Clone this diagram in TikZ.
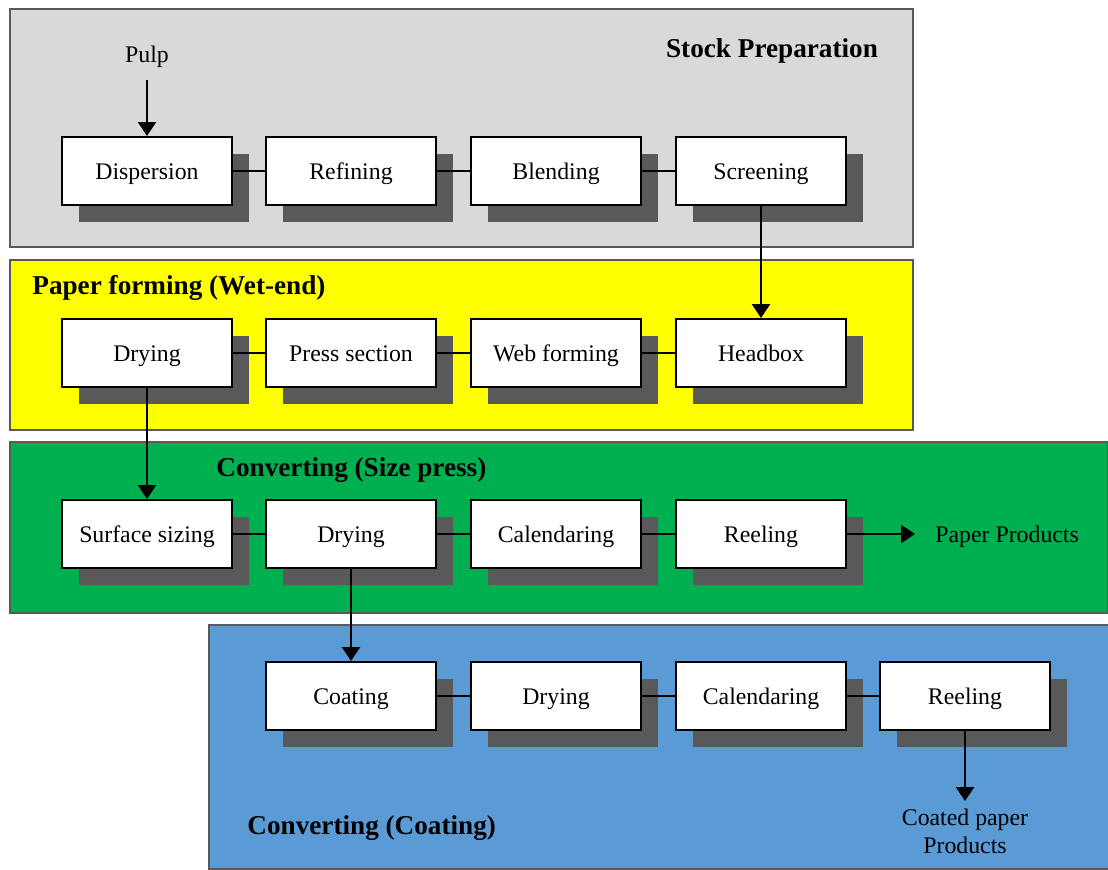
\documentclass[tikz,border=0pt]{standalone}
\usepackage{fontspec}
\setmainfont{Liberation Serif}
\usepackage{xcolor}
\usepackage{tikz}
\usetikzlibrary{arrows.meta, positioning, shadows}

\definecolor{panelgray}{HTML}{D9D9D9}
\definecolor{panelyellow}{HTML}{FFFF00}
\definecolor{panelgreen}{HTML}{00B050}
\definecolor{panelblue}{HTML}{5B9BD5}
\definecolor{shadowgray}{HTML}{595959}

\begin{document}
\begin{tikzpicture}[
		x=0.5pt, y=-0.5pt,
		% Define styles for the panels and process boxes
		panel_box/.style={
			rectangle,
			draw=shadowgray,
			line width=0.8pt,
			inner sep=0pt
		},
		panel_title/.style={
			font=\fontsize{13.6}{16}\selectfont\bfseries,
			inner sep=0pt
		},
		proc_box/.style={
			rectangle,
			draw,
			line width=1pt,
			fill=white,
			minimum width=85pt,
			minimum height=34pt,
			text height=9.4pt,
			text depth=1.4pt,
			font=\fontsize{11.9}{14}\selectfont,
			drop shadow={shadow xshift=8.5pt, shadow yshift=-8.5pt, fill=shadowgray, opacity=1}
		},
		out_label/.style={
			font=\fontsize{11.9}{14}\selectfont,
			inner sep=0pt
		},
		link_style/.style={
			line width=1pt
		},
		arrow_style/.style={
			-{Triangle[width=9pt,length=7pt]},
			line width=1.25pt
		},
		]
		
		\useasboundingbox (0,0) rectangle (1108,869);
		
		% ----- Panels -----
		\node[panel_box, fill=panelgray, minimum width=451.5pt, minimum height=119pt] (stock_panel) at (461.5, 128) {};
		\node[panel_box, fill=panelyellow, minimum width=451.5pt, minimum height=85pt] (wet_panel) at (461.5, 345) {};
		\node[panel_box, fill=panelgreen, minimum width=549pt, minimum height=85.5pt] (size_panel) at (559, 527.5) {};
		\node[panel_box, fill=panelblue, minimum width=450pt, minimum height=122pt] (coat_panel) at (659, 747) {};
		
		% Panel titles
		\node[panel_title] (stock_title) at (772, 51) {Stock Preparation};
		\node[panel_title, anchor=west] (wet_title) at (32, 288) {Paper forming (Wet-end)};
		\node[panel_title, anchor=west] (size_title) at (216, 470) {Converting (Size press)};
		\node[panel_title, anchor=west] (coat_title) at (247, 828) {Converting (Coating)};
		
		% ----- Nodes -----
		% Stock preparation
		\node[proc_box] (dispersion) at (147, 171) {Dispersion};
		\node[proc_box] (refining) at (351, 171) {Refining};
		\node[proc_box] (blending) at (556, 171) {Blending};
		\node[proc_box] (screening) at (761, 171) {Screening};
		
		% Paper forming
		\node[proc_box] (drying_wet) at (147, 353) {Drying};
		\node[proc_box] (press) at (351, 353) {Press section};
		\node[proc_box] (web) at (556, 353) {Web forming};
		\node[proc_box] (headbox) at (761, 353) {Headbox};
		
		% Converting (size press)
		\node[proc_box] (sizing) at (147, 534) {Surface sizing};
		\node[proc_box] (drying_size) at (351, 534) {Drying};
		\node[proc_box] (calendar_size) at (556, 534) {Calendaring};
		\node[proc_box] (reeling_size) at (761, 534) {Reeling};
		
		% Converting (coating)
		\node[proc_box] (coating) at (351, 696) {Coating};
		\node[proc_box] (drying_coat) at (556, 696) {Drying};
		\node[proc_box] (calendar_coat) at (761, 696) {Calendaring};
		\node[proc_box] (reeling_coat) at (965, 696) {Reeling};
		
		% Inputs and outputs
		\node[out_label] (pulp) at (147, 57) {Pulp};
		\node[out_label, anchor=west, text height=9.4pt, text depth=1.4pt] (paper_products) at (935, 534) {Paper Products};
		\node[out_label, align=center, anchor=north] (coated_products) at (965, 809) {Coated paper\\Products};
		
		% ----- Arrows -----
		\draw[link_style] (dispersion) -- (refining);
		\draw[link_style] (refining) -- (blending);
		\draw[link_style] (blending) -- (screening);
		\draw[link_style] (drying_wet) -- (press);
		\draw[link_style] (press) -- (web);
		\draw[link_style] (web) -- (headbox);
		\draw[link_style] (sizing) -- (drying_size);
		\draw[link_style] (drying_size) -- (calendar_size);
		\draw[link_style] (calendar_size) -- (reeling_size);
		\draw[link_style] (coating) -- (drying_coat);
		\draw[link_style] (drying_coat) -- (calendar_coat);
		\draw[link_style] (calendar_coat) -- (reeling_coat);
		
		\draw[arrow_style, shorten <=6pt] (pulp.south) -- (dispersion.north);
		\draw[arrow_style] (screening.south) -- (headbox.north);
		\draw[arrow_style] (drying_wet.south) -- (sizing.north);
		\draw[arrow_style] (drying_size.south) -- (coating.north);
		\draw[arrow_style, shorten >=10pt] (reeling_size.east) -- (paper_products.west);
		\draw[arrow_style, shorten >=4pt] (reeling_coat.south) -- (coated_products.north);
		
	\end{tikzpicture}
\end{document}
